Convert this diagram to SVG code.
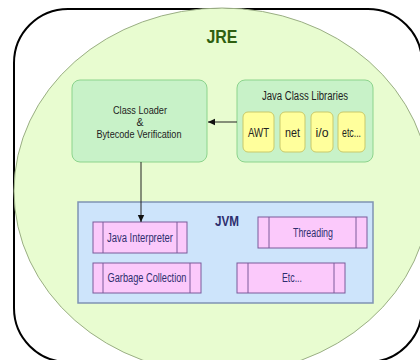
<svg xmlns="http://www.w3.org/2000/svg" width="420" height="360" viewBox="0 0 420 360">
<defs>
<style>
text{font-family:"Liberation Sans",Arial,sans-serif;font-size:12.5px;fill:#222;text-anchor:middle}
.cl{font-size:10.5px}
.green{fill:#c8f2c8;stroke:#8cd48c;stroke-width:1}
.yel{fill:#ffff9c;stroke:#c9c96a;stroke-width:1}
.proc{fill:#fbc9fb;stroke:#7a5a9a;stroke-width:1}
.bar{stroke:#7a5a9a;stroke-width:1}
.jvmt{fill:#2e2e6e}
.conn{stroke:#222;stroke-width:1;fill:none}
</style>
<marker id="arr" markerWidth="8" markerHeight="8" refX="7" refY="4" orient="auto" markerUnits="userSpaceOnUse">
<path d="M0,0.8 L7,4 L0,7.2 Z" fill="#111"/>
</marker>
</defs>
<rect x="14" y="9" width="408" height="353" rx="54" ry="54" fill="#fff" stroke="#000" stroke-width="2"/>
<g id="jre">
<ellipse cx="222" cy="191" rx="208" ry="183" fill="#e8fcd0" stroke="#9aae84" stroke-width="1"/>
<text x="222" y="43" style="font-size:18px;font-weight:bold;fill:#2f5f10" textLength="31" lengthAdjust="spacingAndGlyphs">JRE</text>
</g>
<g id="classloader">
<rect class="green" x="72" y="80" width="135" height="82" rx="8"/>
<text class="cl" x="140" y="114" textLength="54" lengthAdjust="spacingAndGlyphs">Class Loader</text>
<text class="cl" x="140" y="126">&amp;</text>
<text class="cl" x="139" y="138" textLength="85" lengthAdjust="spacingAndGlyphs">Bytecode Verification</text>
</g>
<g id="libraries">
<rect class="green" x="237" y="80" width="136" height="82" rx="8"/>
<text x="305" y="100" textLength="86" lengthAdjust="spacingAndGlyphs">Java Class Libraries</text>
</g>
<g id="awt">
<rect class="yel" x="243" y="112" width="31" height="40" rx="5"/>
<text x="258.5" y="137" textLength="21" lengthAdjust="spacingAndGlyphs">AWT</text>
</g>
<g id="net">
<rect class="yel" x="280" y="112" width="25" height="40" rx="5"/>
<text x="292.5" y="137" textLength="15" lengthAdjust="spacingAndGlyphs">net</text>
</g>
<g id="io">
<rect class="yel" x="311" y="112" width="22" height="40" rx="5"/>
<text x="322" y="137" textLength="13" lengthAdjust="spacingAndGlyphs">i/o</text>
</g>
<g id="etc">
<rect class="yel" x="338" y="112" width="27" height="40" rx="5"/>
<text x="351.5" y="137" textLength="19" lengthAdjust="spacingAndGlyphs">etc...</text>
</g>
<g id="jvm">
<rect x="78" y="202" width="295" height="101" fill="#cde4fb" stroke="#7f93b3" stroke-width="1.5"/>
<text class="jvmt" x="227" y="226" style="font-size:15px;font-weight:bold" textLength="24" lengthAdjust="spacingAndGlyphs">JVM</text>
</g>
<g id="interpreter">
<rect class="proc" x="93" y="222" width="94" height="31"/>
<line class="bar" x1="103" y1="222" x2="103" y2="253"/>
<line class="bar" x1="177" y1="222" x2="177" y2="253"/>
<text class="jvmt" x="140" y="242" textLength="66" lengthAdjust="spacingAndGlyphs">Java Interpreter</text>
</g>
<g id="threading">
<rect class="proc" x="258" y="217" width="109" height="31"/>
<line class="bar" x1="269" y1="217" x2="269" y2="248"/>
<line class="bar" x1="356" y1="217" x2="356" y2="248"/>
<text class="jvmt" x="313" y="237" textLength="40" lengthAdjust="spacingAndGlyphs">Threading</text>
</g>
<g id="gc">
<rect class="proc" x="93" y="263" width="108" height="30"/>
<line class="bar" x1="103" y1="263" x2="103" y2="293"/>
<line class="bar" x1="190" y1="263" x2="190" y2="293"/>
<text class="jvmt" x="147" y="282" textLength="79" lengthAdjust="spacingAndGlyphs">Garbage Collection</text>
</g>
<g id="etcjvm">
<rect class="proc" x="237" y="263" width="108" height="30"/>
<line class="bar" x1="248" y1="263" x2="248" y2="293"/>
<line class="bar" x1="334" y1="263" x2="334" y2="293"/>
<text class="jvmt" x="292" y="282" textLength="20" lengthAdjust="spacingAndGlyphs">Etc...</text>
</g>
<g id="connectors">
<line class="conn" x1="237" y1="122" x2="208" y2="122" marker-end="url(#arr)"/>
<line class="conn" x1="141" y1="162" x2="141" y2="222" marker-end="url(#arr)"/>
</g>
</svg>
